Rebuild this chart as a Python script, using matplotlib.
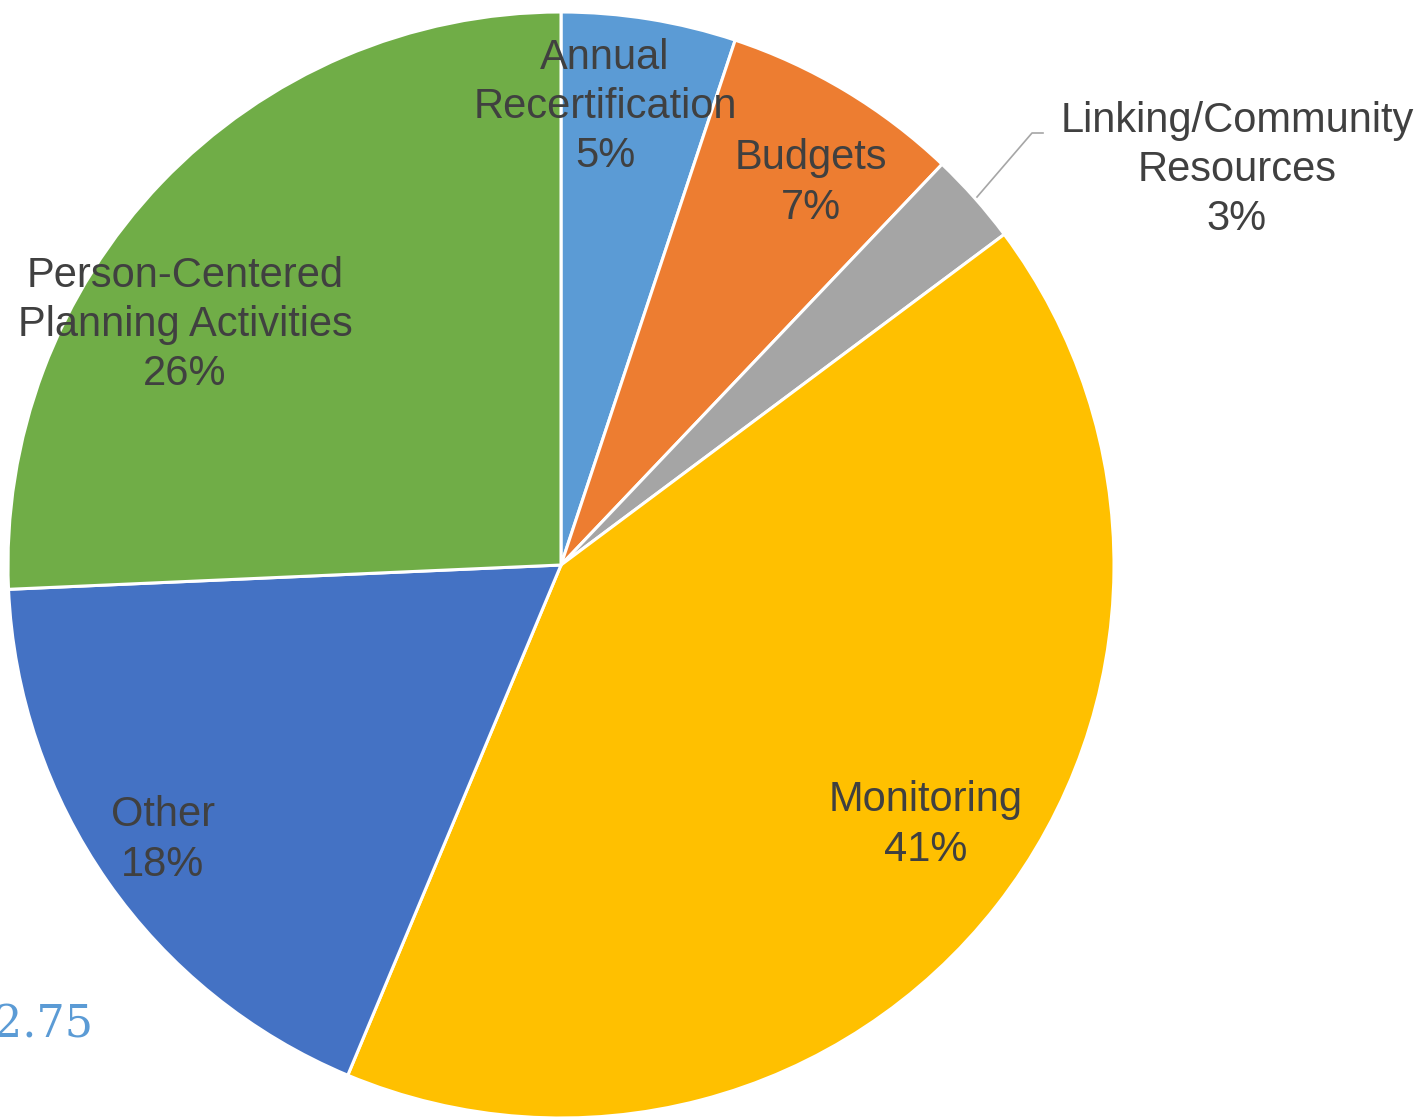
import matplotlib.pyplot as plt

plt.rcParams['font.family'] = ['Liberation Sans', 'DejaVu Sans']

# data
labels = ["Annual\nRecertification", "Budgets", "Linking/Community\nResources",
          "Monitoring", "Other", "Person-Centered\nPlanning Activities"]
values = [5.1, 7.0, 2.7, 41.5, 18.0, 25.7]
pct_labels = ["5%", "7%", "3%", "41%", "18%", "26%"]
colors = ["#5B9BD5", "#ED7D31", "#A5A5A5", "#FFC000", "#4472C4", "#70AD47"]

W, H = 1424, 1118
fig = plt.figure(figsize=(W / 100, H / 100), dpi=100)
ax = fig.add_axes([0, 0, 1, 1])

cx, cy, R = 561, H - 565, 553
ax.pie(values, colors=colors, startangle=90, counterclock=False,
       center=(cx, cy), radius=R, frame=True,
       wedgeprops=dict(edgecolor='white', linewidth=2.2))
ax.set_xlim(0, W)
ax.set_ylim(0, H)
ax.set_aspect('equal')
ax.axis('off')

# label positions (pixel coords, y from top)
label_pos = [(605, 107), (811, 183), (1237, 170), (926, 825), (163, 840), (185, 325)]
for lab, pct, (x, y) in zip(labels, pct_labels, label_pos):
    ax.text(x, H - y, lab + "\n" + pct, ha='center', va='center',
            fontsize=30, color='#404040', linespacing=1.3)

# leader line for small slice
ax.plot([977, 1032, 1043], [H - 197, H - 133, H - 133], color='#A6A6A6', lw=1.2)

# stray value text, cut off at the left edge as in the source
ax.text(-6, H - 1025, "2.75", ha='left', va='center', fontsize=32,
        color='#5B9BD5', family=['DejaVu Serif'])

fig.savefig("out.png", dpi=100)
